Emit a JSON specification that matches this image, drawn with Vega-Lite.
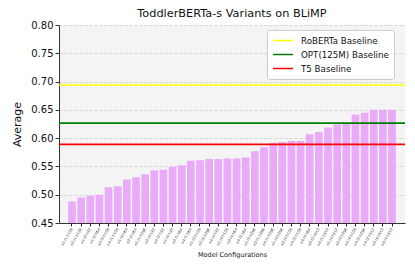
{
  "$schema": "https://vega.github.io/schema/vega-lite/v6.json",
  "autosize": {"type": "none"},
  "width": 346,
  "height": 198,
  "padding": {"left": 59, "top": 25, "right": 10, "bottom": 54},
  "background": "white",
  "config": {
    "font": "DejaVu Sans",
    "view": {"fill": "#f4f4f4", "stroke": null},
    "axis": {"titleColor": "#111111", "labelColor": "#111111", "titleFontWeight": "normal"},
    "axisX": {"titleColor": "#111111"}
  },
  "title": {
    "text": "ToddlerBERTa-s Variants on BLiMP",
    "fontSize": 11.3,
    "fontWeight": "normal",
    "font": "DejaVu Sans",
    "color": "#111",
    "anchor": "middle",
    "offset": 1
  },
  "datasets": {
    "scores": [
      {"model": "e1-l1-h128", "avg": 0.488},
      {"model": "e2-l1-h128", "avg": 0.495},
      {"model": "e1-l2-h32", "avg": 0.498},
      {"model": "e1-l2-h64", "avg": 0.500},
      {"model": "e2-l2-h128", "avg": 0.513},
      {"model": "e4-l1-h128", "avg": 0.515},
      {"model": "e1-l4-h64", "avg": 0.527},
      {"model": "e2-l2-h64", "avg": 0.531},
      {"model": "e1-l1-h256", "avg": 0.536},
      {"model": "e2-l4-h32", "avg": 0.543},
      {"model": "e4-l2-h32", "avg": 0.544},
      {"model": "e1-l4-h32", "avg": 0.549},
      {"model": "e2-l1-h64", "avg": 0.552},
      {"model": "e4-l1-h64", "avg": 0.560},
      {"model": "e1-l2-h128", "avg": 0.561},
      {"model": "e2-l2-h256", "avg": 0.563},
      {"model": "e4-l4-h32", "avg": 0.563},
      {"model": "e1-l4-h128", "avg": 0.564},
      {"model": "e2-l4-h64", "avg": 0.564},
      {"model": "e4-l2-h64", "avg": 0.566},
      {"model": "e1-l2-h256", "avg": 0.577},
      {"model": "e2-l1-h256", "avg": 0.584},
      {"model": "e4-l1-h256", "avg": 0.591},
      {"model": "e1-l4-h256", "avg": 0.593},
      {"model": "e2-l4-h128", "avg": 0.595},
      {"model": "e4-l2-h128", "avg": 0.595},
      {"model": "e4-l4-h64", "avg": 0.607},
      {"model": "e2-l2-h512", "avg": 0.611},
      {"model": "e4-l1-h512", "avg": 0.619},
      {"model": "e1-l4-h512", "avg": 0.624},
      {"model": "e2-l4-h256", "avg": 0.626},
      {"model": "e4-l4-h128", "avg": 0.642},
      {"model": "e4-l2-h256", "avg": 0.645},
      {"model": "e4-l2-h512", "avg": 0.650},
      {"model": "e2-l4-h512", "avg": 0.650},
      {"model": "e4-l4-h512", "avg": 0.650}
    ],
    "baselines": [
      {"baseline": "RoBERTa Baseline", "value": 0.694},
      {"baseline": "OPT(125M) Baseline", "value": 0.6265},
      {"baseline": "T5 Baseline", "value": 0.589}
    ]
  },
  "layer": [
    {
      "data": {"name": "scores"},
      "mark": {"type": "bar", "color": "#e9aaf8", "clip": true},
      "encoding": {
        "x": {
          "field": "model",
          "type": "nominal",
          "sort": null,
          "scale": {"paddingInner": 0.16, "paddingOuter": 1.75},
          "axis": {
            "title": "Model Configurations",
            "titleFontSize": 6.5,
            "titleFontWeight": "normal",
            "titleColor": "#111111",
            "titlePadding": 6,
            "labelAngle": -60,
            "labelFontSize": 3.6,
            "labelColor": "#222222",
            "labelPadding": 2,
            "labelOverlap": false,
            "tickSize": 3,
            "tickColor": "#222222",
            "domainColor": "#333333",
            "grid": false
          }
        },
        "y": {
          "field": "avg",
          "type": "quantitative",
          "scale": {"domain": [0.45, 0.8], "nice": false, "zero": false},
          "axis": {
            "title": "Average",
            "titleFontSize": 11,
            "titleFontWeight": "normal",
            "titleColor": "#111111",
            "titlePadding": 8,
            "values": [0.45, 0.5, 0.55, 0.6, 0.65, 0.7, 0.75, 0.8],
            "tickCount": 12,
            "format": ".2f",
            "labelFontSize": 10,
            "labelColor": "#111111",
            "labelOverlap": false,
            "labelFlush": false,
            "tickSize": 4,
            "tickColor": "#333333",
            "domainColor": "#333333",
            "grid": true,
            "gridColor": "#d4d4d4",
            "gridDash": [3, 2],
            "gridWidth": 1
          }
        }
      }
    },
    {
      "data": {"name": "baselines"},
      "mark": {"type": "rule", "strokeWidth": 1.6},
      "encoding": {
        "y": {"field": "value", "type": "quantitative"},
        "color": {
          "field": "baseline",
          "type": "nominal",
          "scale": {
            "domain": ["RoBERTa Baseline", "OPT(125M) Baseline", "T5 Baseline"],
            "range": ["#ffff00", "#008000", "#ff0000"]
          },
          "legend": {
            "title": null,
            "orient": "none",
            "legendX": 208,
            "legendY": 5,
            "fillColor": "white",
            "strokeColor": "#cccccc",
            "cornerRadius": 2,
            "padding": 5,
            "symbolType": "stroke",
            "symbolSize": 400,
            "symbolStrokeWidth": 1.6,
            "clipHeight": 11,
            "labelFontSize": 8.7,
            "labelColor": "#111111",
            "labelOffset": 7,
            "rowPadding": 3
          }
        }
      }
    }
  ]
}
